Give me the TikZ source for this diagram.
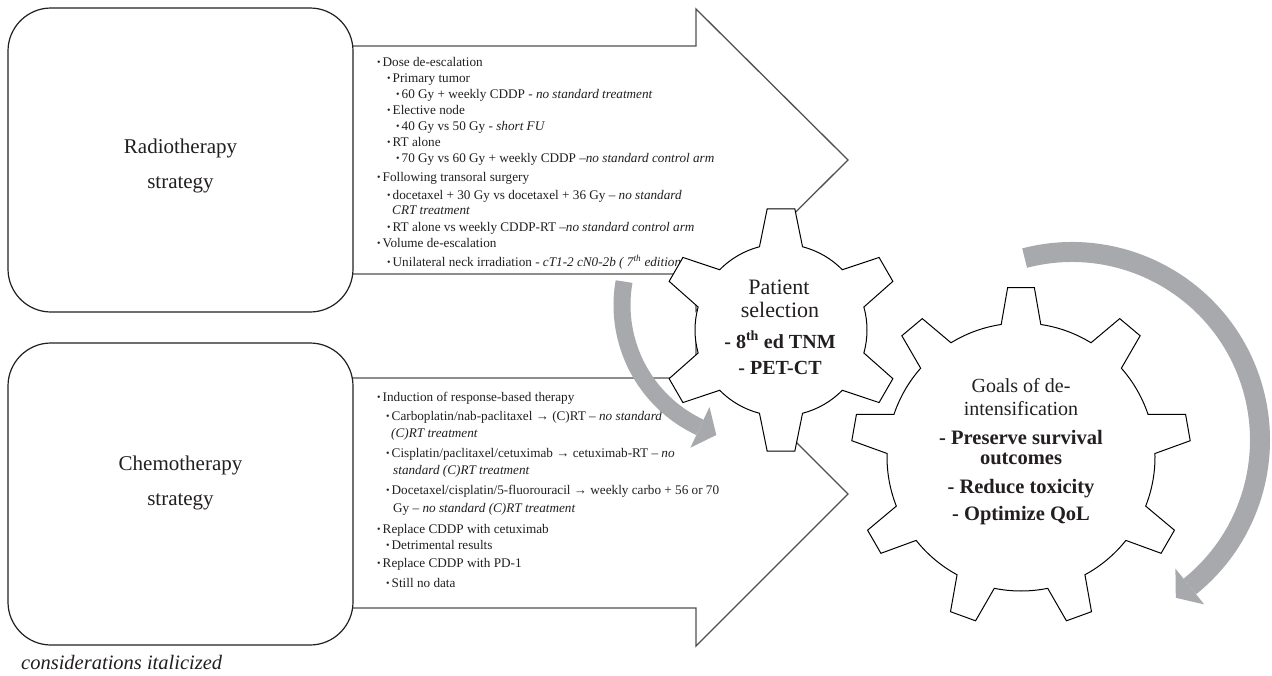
\documentclass[tikz,border=0pt]{standalone}
\usepackage{fontspec}
\usepackage{graphicx}
\setmainfont{Liberation Serif}
\usetikzlibrary{calc}
\definecolor{grayarrow}{RGB}{167,169,172}
\definecolor{ink}{RGB}{35,31,32}
\definecolor{edge}{RGB}{80,80,80}
\newcommand{\bl}{\makebox[5.5pt][l]{\raisebox{0.6pt}{\scalebox{0.75}{\textbullet}}}}
\begin{document}
\begin{tikzpicture}[x=1pt,y=-1pt,
  blockarrow/.style={draw=edge, line width=1.3pt, fill=white, line join=miter},
  rbox/.style={draw=ink, line width=1.2pt, fill=white, rounded corners=43pt},
  gearline/.style={draw=black, line width=1pt, fill=white},
  lt/.style={inner sep=0pt, anchor=base west, font=\fontsize{13.2}{16}\selectfont, text=ink},
  bigt/.style={inner sep=0pt, anchor=base, font=\fontsize{21}{25}\selectfont, text=ink},
  boldt/.style={inner sep=0pt, anchor=base, font=\fontsize{20.5}{24}\selectfont\bfseries, text=ink},
  capt/.style={inner sep=0pt, anchor=base west, font=\fontsize{20.5}{23}\selectfont\itshape, text=ink}]
\useasboundingbox (0,0) rectangle (1272,675);
\fill[white] (0,0) rectangle (1272,675);

% block arrows
\draw[blockarrow] (352,46) -- (696,46) -- (696,9) -- (848,160) -- (696,311) -- (696,274) -- (352,274) -- cycle;
\draw[blockarrow] (352,378) -- (696,378) -- (696,342) -- (848,494) -- (696,646) -- (696,608) -- (352,608) -- cycle;

% rounded boxes
\draw[rbox] (8,8) rectangle (353,312);
\draw[rbox] (8,343) rectangle (353,645);
\node[bigt] (radio1) at (180.5,153) {Radiotherapy};
\node[bigt] (radio2) at (180.5,188) {strategy};
\node[bigt] (chemo1) at (180.5,470) {Chemotherapy};
\node[bigt] (chemo2) at (180.5,505) {strategy};

% top list
\node[lt] (t1) at (377,66) {\bl Dose de-escalation};
\node[lt] (t2) at (387,82) {\bl Primary tumor};
\node[lt] (t3) at (396,98) {\bl 60 Gy + weekly CDDP - \textit{no standard treatment}};
\node[lt] (t4) at (387,114) {\bl Elective node};
\node[lt] (t5) at (396,130) {\bl 40 Gy vs 50 Gy - \textit{short FU}};
\node[lt] (t6) at (387,146) {\bl RT alone};
\node[lt] (t7) at (396,162) {\bl 70 Gy vs 60 Gy + weekly CDDP –\textit{no standard control arm}};
\node[lt] (t8) at (377,181) {\bl Following transoral surgery};
\node[lt] (t9) at (387,199) {\bl docetaxel + 30 Gy vs docetaxel + 36 Gy – \textit{no standard}};
\node[lt] (t10) at (392,214) {\textit{CRT treatment}};
\node[lt] (t11) at (387,231) {\bl RT alone vs weekly CDDP-RT –\textit{no standard control arm}};
\node[lt] (t12) at (377,247) {\bl Volume de-escalation};
\node[lt] (t13) at (387,266) {\bl Unilateral neck irradiation - \textit{cT1-2 cN0-2b ( 7\textsuperscript{th} edition)}};

% bottom list
\node[lt] (b1) at (377,401) {\bl Induction of response-based therapy};
\node[lt] (b2) at (386,420) {\bl Carboplatin/nab-paclitaxel → (C)RT – \textit{no standard}};
\node[lt] (b3) at (391,437) {\textit{(C)RT treatment}};
\node[lt] (b4) at (386,457) {\bl Cisplatin/paclitaxel/cetuximab → cetuximab-RT – \textit{no}};
\node[lt] (b5) at (393,474) {\textit{standard (C)RT treatment}};
\node[lt] (b6) at (386,494) {\bl Docetaxel/cisplatin/5-fluorouracil → weekly carbo + 56 or 70};
\node[lt] (b7) at (393,512) {Gy – \textit{no standard (C)RT treatment}};
\node[lt] (b8) at (377,533) {\bl Replace CDDP with cetuximab};
\node[lt] (b9) at (386,549) {\bl Detrimental results};
\node[lt] (b10) at (377,567) {\bl Replace CDDP with PD-1};
\node[lt] (b11) at (386,587) {\bl Still no data};

% gray circular arrows
\draw[grayarrow, line width=17pt] (757,305) ++(190:135) arc[start angle=190, end angle=115, radius=135];
\fill[grayarrow] (709.5,407.0) -- (716.3,435.0) -- (690.4,447.7) -- cycle;
\draw[grayarrow, line width=20pt] (1072,440) ++(-104.6:188) arc[start angle=-104.6, end angle=51.2, radius=188];
\fill[grayarrow] (1204.2,604.4) -- (1175.8,597.8) -- (1175.4,568.6) -- cycle;

% gears
\draw[gearline] ($(781,330)+(-104.5:86)$)
  \foreach \k in {0,...,5} {
    -- ($(781,330)+({-96.5+60*\k}:122)$)
    -- ($(781,330)+({-83.5+60*\k}:122)$)
    -- ($(781,330)+({-75.5+60*\k}:86)$)
    arc[start angle={-75.5+60*\k}, end angle={-44.5+60*\k}, radius=86]
  } -- cycle;
\draw[gearline] ($(1021,457)+(-98.5:134)$)
  \foreach \k in {0,...,8} {
    -- ($(1021,457)+({-94.5+40*\k}:170)$)
    -- ($(1021,457)+({-85.5+40*\k}:170)$)
    -- ($(1021,457)+({-81.5+40*\k}:134)$)
    arc[start angle={-81.5+40*\k}, end angle={-58.5+40*\k}, radius=134]
  } -- cycle;

% gear texts
\node[bigt, font=\fontsize{22}{26}\selectfont] (ps1) at (779,294) {Patient};
\node[bigt, font=\fontsize{22}{26}\selectfont] (ps2) at (780,317) {selection};
\node[boldt, font=\fontsize{20}{24}\selectfont\bfseries] (ps3) at (780,348) {- 8\textsuperscript{th} ed TNM};
\node[boldt, font=\fontsize{20}{24}\selectfont\bfseries] (ps4) at (780,374) {- PET-CT};

\node[bigt, font=\fontsize{20}{24}\selectfont] (g1) at (1021,392) {Goals of de-};
\node[bigt, font=\fontsize{20}{24}\selectfont] (g2) at (1021,415) {intensification};
\node[boldt] (g3) at (1021,444) {- Preserve survival};
\node[boldt] (g4) at (1021,464) {outcomes};
\node[boldt] (g5) at (1021,493) {- Reduce toxicity};
\node[boldt] (g6) at (1021,520) {- Optimize QoL};

% caption
\node[capt] (cap) at (21,669) {considerations italicized};
\end{tikzpicture}
\end{document}
